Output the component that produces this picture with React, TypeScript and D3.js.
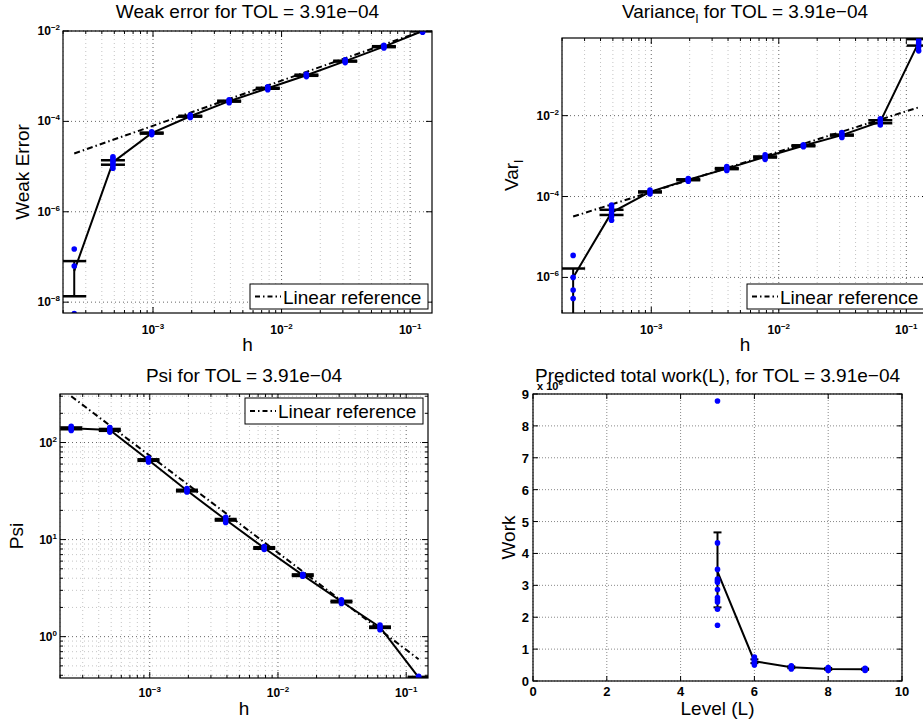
import React from "react";
import * as d3 from "d3";

const FONT = "'Liberation Sans', Arial, Helvetica, sans-serif";
const TOL_TEXT = "3.91e\u221204";

// step sizes h
const H = [0.000244, 0.000488, 0.000977, 0.00195, 0.00391, 0.00781, 0.0156, 0.03125, 0.0625, 0.125];

// Weak error
const weakMean = [4.9e-8, 1.25e-5, 5.5e-5, 1.3e-4, 2.8e-4, 5.4e-4, 1.05e-3, 2.15e-3, 4.5e-3, 1.0e-2];
const weakLo = [1.35e-8, 1.1e-5, 5.35e-5, 1.27e-4, 2.73e-4, 5.27e-4, 1.02e-3, 2.1e-3, 4.39e-3, 9.8e-3];
const weakHi = [8.1e-8, 1.38e-5, 5.65e-5, 1.33e-4, 2.87e-4, 5.53e-4, 1.08e-3, 2.2e-3, 4.61e-3, 1.02e-2];
const weakSamples = [
  [1.5e-7, 6.3e-8, 5.6e-9],
  [9.2e-6, 1.05e-5, 1.2e-5, 1.35e-5, 1.5e-5, 1.65e-5],
  [5.1e-5, 5.5e-5, 5.9e-5],
  [1.22e-4, 1.3e-4, 1.38e-4],
  [2.6e-4, 2.8e-4, 3.0e-4],
  [5.0e-4, 5.4e-4, 5.8e-4],
  [9.8e-4, 1.05e-3, 1.12e-3],
  [2.0e-3, 2.15e-3, 2.3e-3],
  [4.2e-3, 4.5e-3, 4.8e-3],
  [9.4e-3, 1.0e-2, 1.06e-2],
];
const weakRefH = [0.000244, 0.125];
const weakRefV = [1.95e-5, 1.0e-2];

// Variance
const varMean = [1.0e-6, 4.0e-5, 1.3e-4, 2.6e-4, 4.9e-4, 9.5e-4, 1.8e-3, 3.3e-3, 7.1e-3, 0.65];
const varLo = [4e-8, 3.5e-5, 1.26e-4, 2.53e-4, 4.75e-4, 9.2e-4, 1.75e-3, 3.2e-3, 6.5e-3, 0.54];
const varHi = [1.66e-6, 4.7e-5, 1.34e-4, 2.67e-4, 5.05e-4, 9.8e-4, 1.85e-3, 3.4e-3, 7.7e-3, 0.78];
const varSamples = [
  [3.5e-6, 1.0e-6, 4.9e-7, 3.0e-7],
  [2.6e-5, 3.2e-5, 3.9e-5, 4.7e-5, 5.5e-5, 6.2e-5],
  [1.15e-4, 1.3e-4, 1.45e-4],
  [2.4e-4, 2.6e-4, 2.8e-4],
  [4.4e-4, 4.9e-4, 5.5e-4],
  [8.3e-4, 9.5e-4, 1.08e-3],
  [1.7e-3, 1.8e-3, 1.9e-3],
  [2.9e-3, 3.3e-3, 3.8e-3],
  [5.9e-3, 7.1e-3, 8.4e-3],
  [0.4, 0.5, 0.62, 0.72, 0.83],
];
const varRefH = [0.000244, 0.125];
const varRefV = [3.2e-5, 1.6e-2];

// Psi
const psiMean = [140, 135, 66, 32, 16, 8.2, 4.3, 2.3, 1.25, 0.38];
const psiLo = [137, 132, 64.8, 31.4, 15.7, 8.05, 4.22, 2.26, 1.23, 0.375];
const psiHi = [143, 138, 67.2, 32.6, 16.3, 8.35, 4.38, 2.34, 1.27, 0.385];
const psiSamples = [
  [133, 140, 147],
  [128, 135, 143],
  [63, 66, 69],
  [31, 32, 33.5],
  [15, 16, 17],
  [7.9, 8.2, 8.5],
  [4.2, 4.3, 4.4],
  [2.2, 2.3, 2.4],
  [1.18, 1.25, 1.32],
  [0.37, 0.38, 0.39],
];
const psiRefH = [0.000244, 0.125];
const psiRefV = [300, 0.586];

// Work
const levels = [5, 6, 7, 8, 9];
const workMean = [3.43, 0.62, 0.43, 0.38, 0.37];
const workLo = [2.31, 0.56, 0.4, 0.35, 0.35];
const workHi = [4.66, 0.68, 0.46, 0.41, 0.39];
const workSamples = [
  [8.78, 4.33, 3.5, 3.2, 3.15, 3.1, 2.87, 2.62, 2.55, 2.48, 2.25, 1.75],
  [0.5, 0.55, 0.6, 0.65, 0.7, 0.75],
  [0.38, 0.42, 0.45, 0.48],
  [0.33, 0.36, 0.39, 0.42],
  [0.33, 0.36, 0.38, 0.4],
];
const workXTicks = [0, 2, 4, 6, 8, 10];
const workYTicks = [0, 1, 2, 3, 4, 5, 6, 7, 8, 9];

const LEGEND_LABEL = "Linear reference";
const MINUS = "\u2212";

function expLabel(e: number) {
  return e < 0 ? MINUS + String(-e) : String(e);
}

function Legend({ x0, y0, x1, y1 }: any) {
  const cy = (y0 + y1) / 2;
  return (
    <g>
      <rect x={x0} y={y0} width={x1 - x0} height={y1 - y0} fill="white" stroke="black" strokeWidth={1} />
      <line x1={x0 + 5} x2={x0 + 31} y1={cy} y2={cy} stroke="black" strokeWidth={2} strokeDasharray="5,3,1.5,3" />
      <text x={x0 + 33} y={cy + 7} fontFamily={FONT} fontSize={19} fill="black">
        {LEGEND_LABEL}
      </text>
    </g>
  );
}

function LogPanel(p: any) {
  const { id, left, right, top, bottom, xDom, yDom, yMajor, yMinor, cap } = p;
  const x = d3.scaleLog().domain(xDom).range([left, right]);
  const y = d3.scaleLog().domain(yDom).range([bottom, top]);
  const xMajor = [1e-3, 1e-2, 1e-1];
  const xMinor: number[] = [];
  for (let k = -4; k <= -1; k++) for (let m = 2; m <= 9; m++) {
    const v = m * Math.pow(10, k);
    if (v > xDom[0] && v < xDom[1]) xMinor.push(v);
  }
  const yMin: number[] = [];
  if (yMinor) {
    for (let k = -2; k <= 3; k++) for (let m = 2; m <= 9; m++) {
      const v = m * Math.pow(10, k);
      if (v > yDom[0] && v < yDom[1]) yMin.push(v);
    }
  }
  const line = d3.line<number>().x((_, i) => x(p.h[i])).y((d) => y(d));
  const refLine = d3.line<number>().x((_, i) => x(p.refH[i])).y((d) => y(d));
  return (
    <g>
      <defs>
        <clipPath id={id}>
          <rect x={left} y={top} width={right - left} height={bottom - top} />
        </clipPath>
      </defs>
      {/* grid */}
      {xMinor.map((v, i) => (
        <line key={"xm" + i} x1={x(v)} x2={x(v)} y1={top} y2={bottom} stroke="#c4c4c4" strokeWidth={1} strokeDasharray="1,3" />
      ))}
      {yMin.map((v, i) => (
        <line key={"ym" + i} x1={left} x2={right} y1={y(v)} y2={y(v)} stroke="#c4c4c4" strokeWidth={1} strokeDasharray="1,3" />
      ))}
      {xMajor.map((v, i) => (
        <line key={"xM" + i} x1={x(v)} x2={x(v)} y1={top} y2={bottom} stroke="#666" strokeWidth={1} strokeDasharray="1,3" />
      ))}
      {yMajor.map((e: number, i: number) => (
        <line key={"yM" + i} x1={left} x2={right} y1={y(Math.pow(10, e))} y2={y(Math.pow(10, e))} stroke="#666" strokeWidth={1} strokeDasharray="1,3" />
      ))}
      <g clipPath={`url(#${id})`}>
        <path d={refLine(p.refV) || ""} fill="none" stroke="black" strokeWidth={2} strokeDasharray="6,3,1.5,3" />
        {p.mean.map((_: number, i: number) => {
          const cx = x(p.h[i]);
          return (
            <g key={"eb" + i}>
              <line x1={cx} x2={cx} y1={y(p.lo[i])} y2={y(p.hi[i])} stroke="black" strokeWidth={2} />
              <line x1={cx - cap} x2={cx + cap} y1={y(p.lo[i])} y2={y(p.lo[i])} stroke="black" strokeWidth={2.5} />
              <line x1={cx - cap} x2={cx + cap} y1={y(p.hi[i])} y2={y(p.hi[i])} stroke="black" strokeWidth={2.5} />
            </g>
          );
        })}
        <path d={line(p.mean) || ""} fill="none" stroke="black" strokeWidth={2} />
        {p.samples.map((arr: number[], i: number) =>
          arr.map((v, j) => <circle key={`s${i}-${j}`} cx={x(p.h[i])} cy={y(v)} r={2.8} fill="#0000ff" />)
        )}
      </g>
      {/* box */}
      <rect x={left} y={top} width={right - left} height={bottom - top} fill="none" stroke="black" strokeWidth={1.2} />
      {/* ticks */}
      {xMajor.map((v, i) => (
        <g key={"xt" + i}>
          <line x1={x(v)} x2={x(v)} y1={bottom} y2={bottom - 6} stroke="black" />
          <line x1={x(v)} x2={x(v)} y1={top} y2={top + 6} stroke="black" />
          <text x={x(v)} y={bottom + p.xTickDy} textAnchor="middle" fontFamily={FONT} fontWeight="bold" fontSize={12}>
            10<tspan dy={-5} fontSize={8}>{expLabel(Math.round(Math.log10(v)))}</tspan>
          </text>
        </g>
      ))}
      {xMinor.map((v, i) => (
        <g key={"xmt" + i}>
          <line x1={x(v)} x2={x(v)} y1={bottom} y2={bottom - 3} stroke="black" />
          <line x1={x(v)} x2={x(v)} y1={top} y2={top + 3} stroke="black" />
        </g>
      ))}
      {yMin.map((v, i) => (
        <g key={"ymt" + i}>
          <line x1={left} x2={left + 3} y1={y(v)} y2={y(v)} stroke="black" />
          <line x1={right} x2={right - 3} y1={y(v)} y2={y(v)} stroke="black" />
        </g>
      ))}
      {yMajor.map((e: number, i: number) => {
        const yy = y(Math.pow(10, e));
        return (
          <g key={"yt" + i}>
            <line x1={left} x2={left + 6} y1={yy} y2={yy} stroke="black" />
            <line x1={right} x2={right - 6} y1={yy} y2={yy} stroke="black" />
            <text x={left - 3} y={yy + 4} textAnchor="end" fontFamily={FONT} fontWeight="bold" fontSize={12}>
              10<tspan dy={-5} fontSize={8}>{expLabel(e)}</tspan>
            </text>
          </g>
        );
      })}
      {/* labels */}
      <text x={(left + right) / 2} y={p.titleY} textAnchor="middle" fontFamily={FONT} fontSize={19}>
        {p.title}
      </text>
      <text x={(left + right) / 2} y={bottom + p.xLabelDy} textAnchor="middle" fontFamily={FONT} fontSize={19}>
        h
      </text>
      <text transform={`translate(${p.yLabelX},${(top + bottom) / 2}) rotate(-90)`} textAnchor="middle" fontFamily={FONT} fontSize={19}>
        {p.ylabel}
      </text>
      <Legend {...p.legend} />
    </g>
  );
}

function WorkPanel() {
  const left = 533, right = 902, top = 394, bottom = 681;
  const x = d3.scaleLinear().domain([0, 10]).range([left, right]);
  const y = d3.scaleLinear().domain([0, 9]).range([bottom, top]);
  const line = d3.line<number>().x((_, i) => x(levels[i])).y((d) => y(d));
  return (
    <g>
      {workXTicks.map((v) => (
        <line key={"gx" + v} x1={x(v)} x2={x(v)} y1={top} y2={bottom} stroke="#888" strokeDasharray="1,2" />
      ))}
      {workYTicks.map((v) => (
        <line key={"gy" + v} x1={left} x2={right} y1={y(v)} y2={y(v)} stroke="#888" strokeDasharray="1,2" />
      ))}
      {workMean.map((_, i) => {
        const cx = x(levels[i]);
        return (
          <g key={"eb" + i}>
            <line x1={cx} x2={cx} y1={y(workLo[i])} y2={y(workHi[i])} stroke="black" strokeWidth={2} />
            <line x1={cx - 4} x2={cx + 4} y1={y(workLo[i])} y2={y(workLo[i])} stroke="black" strokeWidth={2} />
            <line x1={cx - 4} x2={cx + 4} y1={y(workHi[i])} y2={y(workHi[i])} stroke="black" strokeWidth={2} />
          </g>
        );
      })}
      <path d={line(workMean) || ""} fill="none" stroke="black" strokeWidth={2} />
      {workSamples.map((arr, i) =>
        arr.map((v, j) => <circle key={`w${i}-${j}`} cx={x(levels[i])} cy={y(v)} r={2.8} fill="#0000ff" />)
      )}
      <rect x={left} y={top} width={right - left} height={bottom - top} fill="none" stroke="black" strokeWidth={1.2} />
      {workXTicks.map((v) => (
        <g key={"tx" + v}>
          <line x1={x(v)} x2={x(v)} y1={bottom} y2={bottom - 5} stroke="black" />
          <line x1={x(v)} x2={x(v)} y1={top} y2={top + 5} stroke="black" />
          <text x={x(v)} y={bottom + 15} textAnchor="middle" fontFamily={FONT} fontWeight="bold" fontSize={13}>
            {v}
          </text>
        </g>
      ))}
      {workYTicks.map((v) => (
        <g key={"ty" + v}>
          <line x1={left} x2={left + 5} y1={y(v)} y2={y(v)} stroke="black" />
          <line x1={right} x2={right - 5} y1={y(v)} y2={y(v)} stroke="black" />
          <text x={left - 4} y={y(v) + 5} textAnchor="end" fontFamily={FONT} fontWeight="bold" fontSize={13}>
            {v}
          </text>
        </g>
      ))}
      <text x={left + 4} y={top - 4} fontFamily={FONT} fontWeight="bold" fontSize={11}>
        x 10<tspan dy={-5} fontSize={8}>6</tspan>
      </text>
      <text x={(left + right) / 2} y={382} textAnchor="middle" fontFamily={FONT} fontSize={19}>
        {"Predicted total work(L), for TOL = " + TOL_TEXT}
      </text>
      <text x={(left + right) / 2} y={bottom + 34} textAnchor="middle" fontFamily={FONT} fontSize={19}>
        Level (L)
      </text>
      <text transform={`translate(515,${(top + bottom) / 2}) rotate(-90)`} textAnchor="middle" fontFamily={FONT} fontSize={19}>
        Work
      </text>
    </g>
  );
}

export default function App() {
  const xDom = [Math.pow(10, -3.7), Math.pow(10, -0.83)];
  return (
    <svg width={923} height={725} style={{ position: "absolute", left: 0, top: 0, background: "white" }}>
      <rect width={923} height={725} fill="white" />
      <LogPanel
        id="c1" left={63} right={432} top={31} bottom={313}
        xDom={xDom} yDom={[Math.pow(10, -8.24), 1e-2]} yMajor={[-8, -6, -4, -2]} yMinor={false} cap={12}
        h={H} mean={weakMean} lo={weakLo} hi={weakHi} samples={weakSamples} refH={weakRefH} refV={weakRefV}
        title={"Weak error for TOL = " + TOL_TEXT} titleY={18} xTickDy={21} xLabelDy={38}
        ylabel="Weak Error" yLabelX={29}
        legend={{ x0: 250, y0: 284, x1: 428, y1: 309 }}
      />
      <LogPanel
        id="c2" left={562} right={928} top={38} bottom={313}
        xDom={xDom} yDom={[Math.pow(10, -6.88), Math.pow(10, -0.08)]} yMajor={[-6, -4, -2]} yMinor={false} cap={12}
        h={H} mean={varMean} lo={varLo} hi={varHi} samples={varSamples} refH={varRefH} refV={varRefV}
        title={<>Variance<tspan dy={5} fontSize={13}>l</tspan><tspan dy={-5}>{" for TOL = " + TOL_TEXT}</tspan></>}
        titleY={18} xTickDy={21} xLabelDy={38}
        ylabel={<>Var<tspan dy={5} fontSize={13}>l</tspan></>} yLabelX={518}
        legend={{ x0: 747, y0: 284, x1: 924, y1: 309 }}
      />
      <LogPanel
        id="c3" left={60} right={428} top={394} bottom={678}
        xDom={xDom} yDom={[Math.pow(10, -0.426), Math.pow(10, 2.5)]} yMajor={[0, 1, 2]} yMinor={true} cap={11}
        h={H} mean={psiMean} lo={psiLo} hi={psiHi} samples={psiSamples} refH={psiRefH} refV={psiRefV}
        title={"Psi for TOL = " + TOL_TEXT} titleY={382} xTickDy={19} xLabelDy={37}
        ylabel="Psi" yLabelX={23}
        legend={{ x0: 245, y0: 398, x1: 423, y1: 424 }}
      />
      <WorkPanel />
    </svg>
  );
}
